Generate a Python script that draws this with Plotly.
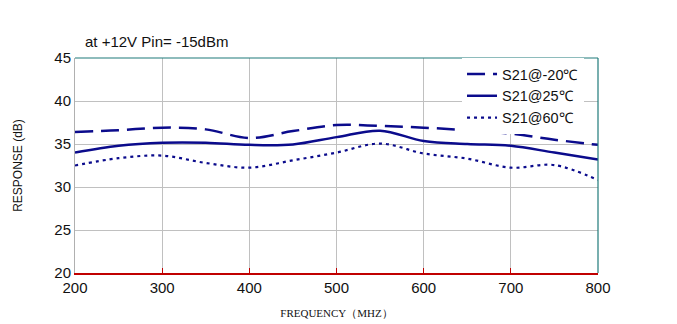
import plotly.graph_objects as go

freq = [200, 250, 300, 350, 400, 450, 500, 550, 600, 650, 700, 750, 800]
s21_m20 = [36.4, 36.6, 36.9, 36.7, 35.7, 36.5, 37.2, 37.1, 36.9, 36.6, 36.2, 35.5, 34.9]
s21_25 = [34.0, 34.8, 35.15, 35.15, 34.9, 34.95, 35.8, 36.55, 35.35, 35.0, 34.8, 34.0, 33.2]
s21_60 = [32.5, 33.35, 33.65, 32.8, 32.25, 33.1, 34.0, 35.05, 33.9, 33.3, 32.25, 32.55, 30.8]

names = ["S21@-20℃", "S21@25℃", "S21@60℃"]
navy = "#0B0B8C"

fig = go.Figure()
fig.add_trace(go.Scatter(x=freq, y=s21_m20, name=names[0], mode="lines",
                         line=dict(color=navy, width=2.5, dash="18px,8px", shape="spline")))
fig.add_trace(go.Scatter(x=freq, y=s21_25, name=names[1], mode="lines",
                         line=dict(color=navy, width=2.5, shape="spline")))
fig.add_trace(go.Scatter(x=freq, y=s21_60, name=names[2], mode="lines",
                         line=dict(color=navy, width=2.2, dash="3px,4px", shape="spline")))

# page body has an 8px margin, so the figure is shrunk to fit the window
fig.update_layout(
    width=669, height=316,
    margin=dict(l=67, r=79, t=50, b=51, autoexpand=False),
    paper_bgcolor="white", plot_bgcolor="white",
    font=dict(family="Arial, Liberation Sans, sans-serif", color="#111111"),
    showlegend=True,
    legend=dict(x=0.74, y=1, xanchor="left", yanchor="top",
                bgcolor="white", borderwidth=0,
                font=dict(size=14.5, family="Arial, Liberation Sans"),
                itemwidth=30, tracegroupgap=0),
    annotations=[
        dict(text="at +12V Pin= -15dBm", xref="paper", yref="paper",
             x=0.015, y=1.03, xanchor="left", yanchor="bottom", showarrow=False,
             font=dict(size=15, family="Arial, Liberation Sans")),
    ],
    shapes=[
        dict(type="line", xref="paper", yref="paper", x0=0, x1=1, y0=1, y1=1,
             line=dict(color="#1F7A7A", width=1.2)),
        dict(type="line", xref="paper", yref="paper", x0=1, x1=1, y0=0, y1=1,
             line=dict(color="#1F7A7A", width=1.2)),
    ],
)

fig.update_xaxes(
    range=[200, 800], dtick=100, tick0=200, automargin=False,
    showgrid=True, gridcolor="#C0C0C0", gridwidth=1,
    showline=True, linecolor="#C00000", linewidth=1.5,
    ticks="inside", ticklen=5, tickcolor="#C00000",
    tickfont=dict(size=15), zeroline=False,
    title=dict(text="FREQUENCY（MHZ）", standoff=15,
               font=dict(size=11, family="Liberation Serif, DejaVu Serif, serif")),
)
fig.update_yaxes(
    range=[20, 45], dtick=5, automargin=False,
    showgrid=True, gridcolor="#C0C0C0", gridwidth=1,
    showline=True, linecolor="#B0B0B0", linewidth=1,
    ticks="", tickfont=dict(size=15), zeroline=False,
    title=dict(text="RESPONSE (dB)", standoff=29, font=dict(size=12)),
)

fig.write_html("out.html")
